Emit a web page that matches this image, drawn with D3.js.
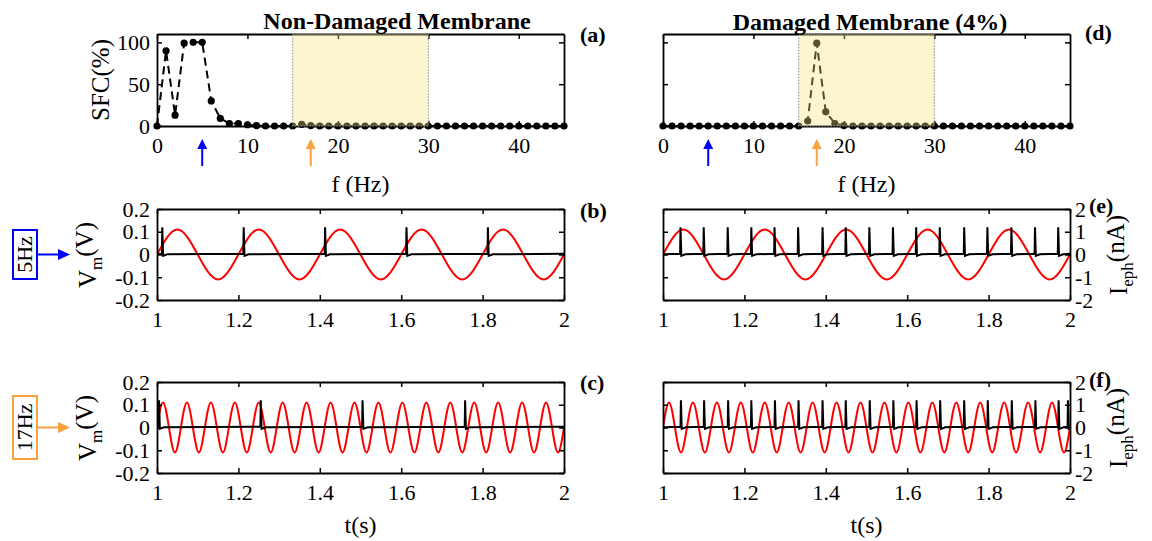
<!DOCTYPE html>
<html>
<head>
<meta charset="utf-8">
<script src="https://cdn.jsdelivr.net/npm/d3@7"></script>
<style>
  body { margin: 0; background: #fff; }
  text { font-family: "Liberation Serif", "Times New Roman", serif; fill: #000; }
</style>
</head>
<body>
<svg id="fig" width="1152" height="541"></svg>
<script>
// ---- data ----
const freqs = [0,1,2,3,4,5,6,7,8,9,10,11,12,13,14,15,16,17,18,19,20,21,22,23,24,25,26,27,28,29,30,
               31,32,33,34,35,36,37,38,39,40,41,42,43,44,45];
const sfcHealthy = [0,90,13,99,100,100,30,9,3,3,1.5,0.5,0,0,0,0,2,0.5,0,0,0,0,0,0,0,0,0,0,0,0,0,
                    0,0,0,0,0,0,0,0,0,0,0,0,0,0,0];
const sfcDamaged = [0,0,0,0,0,0,0,0,0,0,0,0,0,0,0,0,6,99,17,3,0.5,0,0,0,0,0,0,0,0,0,0,
                    0,0,0,0,0,0,0,0,0,0,0,0,0,0,0];
const bandHz = [15, 30];
const stimFreqs = [5, 17];
const sfcXTicks = [0, 10, 20, 30, 40];
const sfcYTicks = [0, 50, 100];

const timeTicks = [1, 1.2, 1.4, 1.6, 1.8, 2];
const vmTicks = [-0.2, -0.1, 0, 0.1, 0.2];
const iTicks = [-2, -1, 0, 1, 2];

// stimulus current (nA), sampled at peaks and zero crossings
const stim5T = [1.00,1.05,1.10,1.15,1.20,1.25,1.30,1.35,1.40,1.45,1.50,1.55,1.60,1.65,1.70,1.75,1.80,1.85,1.90,1.95,2.00];
const stim5I = [0,1.1,0,-1.1, 0,1.1,0,-1.1, 0,1.1,0,-1.1, 0,1.1,0,-1.1, 0,1.1,0,-1.1, 0];
const stim17T = [1.0000,1.0147,1.0294,1.0441,1.0588,1.0735,1.0882,1.1029,1.1176,1.1324,1.1471,1.1618,
                 1.1765,1.1912,1.2059,1.2206,1.2353,1.2500,1.2647,1.2794,1.2941,1.3088,1.3235,1.3382,
                 1.3529,1.3676,1.3824,1.3971,1.4118,1.4265,1.4412,1.4559,1.4706,1.4853,1.5000,1.5147,
                 1.5294,1.5441,1.5588,1.5735,1.5882,1.6029,1.6176,1.6324,1.6471,1.6618,1.6765,1.6912,
                 1.7059,1.7206,1.7353,1.7500,1.7647,1.7794,1.7941,1.8088,1.8235,1.8382,1.8529,1.8676,
                 1.8824,1.8971,1.9118,1.9265,1.9412,1.9559,1.9706,1.9853,2.0000];
const stim17I = [0,1.1,0,-1.1, 0,1.1,0,-1.1, 0,1.1,0,-1.1, 0,1.1,0,-1.1,
                 0,1.1,0,-1.1, 0,1.1,0,-1.1, 0,1.1,0,-1.1, 0,1.1,0,-1.1,
                 0,1.1,0,-1.1, 0,1.1,0,-1.1, 0,1.1,0,-1.1, 0,1.1,0,-1.1,
                 0,1.1,0,-1.1, 0,1.1,0,-1.1, 0,1.1,0,-1.1, 0,1.1,0,-1.1,
                 0,1.1,0,-1.1, 0];

// spike times (s) of the membrane voltage
const spikesB = [1.013, 1.213, 1.413, 1.613, 1.813];
const spikesE = [1.043, 1.100, 1.159, 1.217, 1.274, 1.332, 1.392, 1.449, 1.507, 1.565,
                 1.622, 1.680, 1.740, 1.797, 1.856, 1.914, 1.971];
const spikesC = [1.005, 1.255, 1.505, 1.757];
const spikesF = [1.044, 1.101, 1.160, 1.217, 1.275, 1.333, 1.392, 1.449, 1.508, 1.566,
                 1.623, 1.681, 1.740, 1.798, 1.857, 1.915, 1.972, 1.995];
// spike shape (V): level before, peak, undershoot, settled level
const vmBase = 0.003, vmPeak = 0.12, vmTrough = -0.006, vmRest = 0.001;

// ---- layout ----
const svg = d3.select('#fig');
const cols = [157, 663];
const plotW = 407;
const rowA = 34, rowB = 209, rowC = 382;
const sfcH = 92, trH = 91;
const orange = '#f7a140';

function style_axis(sel) {
    sel.select('.domain').attr('stroke', '#000').attr('stroke-width', 1.8);
    sel.selectAll('.tick line').attr('stroke', '#000').attr('stroke-width', 1.5);
    sel.selectAll('text')
        .attr('font-size', 22)
        .attr('font-family', 'Liberation Serif')
        .attr('fill', '#000');
}

function draw_axes(g, xScale, yScale, xTicks, yTicks, showLeft, right) {
    let w = xScale.range()[1];
    let h = yScale.range()[0];
    let fmt = function (d) { return String(d); };

    g.append('g').attr('transform', `translate(0, ${h})`)
        .call(d3.axisBottom(xScale).tickValues(xTicks).tickSizeInner(-5).tickSizeOuter(0)
            .tickPadding(11).tickFormat(fmt))
        .call(style_axis);
    g.append('g')
        .call(d3.axisTop(xScale).tickValues(xTicks).tickSizeInner(-5).tickSizeOuter(0).tickFormat(''))
        .call(style_axis);
    g.append('g')
        .call(d3.axisLeft(yScale).tickValues(yTicks).tickSizeInner(-5).tickSizeOuter(0)
            .tickPadding(7).tickFormat(showLeft ? fmt : ''))
        .call(style_axis);

    let rAxis = right
        ? d3.axisRight(right.scale).tickValues(right.ticks).tickPadding(5).tickFormat(fmt)
        : d3.axisRight(yScale).tickValues(yTicks).tickFormat('');
    g.append('g').attr('transform', `translate(${w}, 0)`)
        .call(rAxis.tickSizeInner(-5).tickSizeOuter(0))
        .call(style_axis);
}

function up_arrow(g, x, y0, y1, colour) {
    g.append('line')
        .attr('x1', x).attr('x2', x).attr('y1', y1).attr('y2', y0 + 8)
        .attr('stroke', colour).attr('stroke-width', 2);
    g.append('path')
        .attr('d', `M${x},${y0} L${x - 5},${y0 + 10} L${x + 5},${y0 + 10} Z`)
        .attr('fill', colour);
}

function sfc_plot(left, values, showLeft) {
    let g = svg.append('g').attr('transform', `translate(${left}, ${rowA})`);
    let xScale = d3.scaleLinear().domain([0, 45]).range([0, plotW]);
    let yScale = d3.scaleLinear().domain([0, 110]).range([sfcH, 0]);

    draw_axes(g, xScale, yScale, sfcXTicks, sfcYTicks, showLeft, null);

    let pts = freqs.map(function (f, i) { return [f, values[i]]; });
    g.append('path')
        .datum(pts)
        .attr('d', d3.line().x(function (d) { return xScale(d[0]); }).y(function (d) { return yScale(d[1]); }))
        .attr('fill', 'none')
        .attr('stroke', '#000')
        .attr('stroke-width', 2)
        .attr('stroke-dasharray', '8,5');
    g.selectAll('.dot')
        .data(pts)
        .enter()
        .append('circle')
        .attr('class', 'dot')
        .attr('cx', function (d) { return xScale(d[0]); })
        .attr('cy', function (d) { return yScale(d[1]); })
        .attr('r', 3.6)
        .attr('fill', '#000');

    // shaded frequency band
    g.append('rect')
        .attr('x', xScale(bandHz[0]))
        .attr('y', 0)
        .attr('width', xScale(bandHz[1]) - xScale(bandHz[0]))
        .attr('height', sfcH)
        .attr('fill', '#f9e279')
        .attr('fill-opacity', 0.35)
        .attr('stroke', '#999')
        .attr('stroke-width', 1.2)
        .attr('stroke-dasharray', '1.5,1.5');

    up_arrow(g, xScale(stimFreqs[0]), sfcH + 13, sfcH + 40, '#0000ff');
    up_arrow(g, xScale(stimFreqs[1]), sfcH + 13, sfcH + 40, orange);

    g.append('text')
        .attr('x', plotW / 2).attr('y', sfcH + 66)
        .attr('text-anchor', 'middle')
        .attr('font-size', 24)
        .text('f (Hz)');
    return g;
}

function vm_points(spikes) {
    let pts = [[1, vmRest]];
    spikes.forEach(function (s) {
        pts.push([s - 0.001, vmBase], [s, vmPeak], [s + 0.002, vmTrough], [s + 0.012, vmRest]);
    });
    pts.push([2, vmBase]);
    return pts;
}

function trace_plot(left, top, stimT, stimI, spikes, showLeft, showRight, showXLabel) {
    let g = svg.append('g').attr('transform', `translate(${left}, ${top})`);
    let xScale = d3.scaleLinear().domain([1, 2]).range([0, plotW]);
    let yScale = d3.scaleLinear().domain([-0.2, 0.2]).range([trH, 0]);
    let iScale = d3.scaleLinear().domain([-2, 2]).range([trH, 0]);

    let clipId = `clip${left}_${top}`;
    g.append('clipPath').attr('id', clipId)
        .append('rect').attr('width', plotW).attr('height', trH);
    let plot = g.append('g').attr('clip-path', `url(#${clipId})`);

    let stim = stimT.map(function (t, i) { return [t, stimI[i]]; });
    plot.append('path')
        .datum(stim)
        .attr('d', d3.line().curve(d3.curveNatural)
            .x(function (d) { return xScale(d[0]); })
            .y(function (d) { return iScale(d[1]); }))
        .attr('fill', 'none')
        .attr('stroke', '#ff0000')
        .attr('stroke-width', 2);

    plot.append('path')
        .datum(vm_points(spikes))
        .attr('d', d3.line()
            .x(function (d) { return xScale(d[0]); })
            .y(function (d) { return yScale(d[1]); }))
        .attr('fill', 'none')
        .attr('stroke', '#000')
        .attr('stroke-width', 2);

    draw_axes(g, xScale, yScale, timeTicks, vmTicks, showLeft,
        showRight ? { scale: iScale, ticks: iTicks } : null);

    if (showXLabel) {
        g.append('text')
            .attr('x', plotW / 2).attr('y', trH + 60)
            .attr('text-anchor', 'middle')
            .attr('font-size', 24)
            .text('t(s)');
    }
    return g;
}

function sub_label(x, y, main, sub, tail) {
    let t = svg.append('text')
        .attr('transform', `translate(${x}, ${y}) rotate(-90)`)
        .attr('text-anchor', 'middle')
        .attr('font-size', 25);
    t.append('tspan').text(main);
    t.append('tspan').attr('dy', '0.35em').attr('font-size', 17).text(sub);
    t.append('tspan').attr('dy', '-0.35em').text(tail);
}

function freq_tag(y0, y1, label, colour) {
    svg.append('rect')
        .attr('x', 13).attr('y', y0)
        .attr('width', 24).attr('height', y1 - y0)
        .attr('fill', 'none')
        .attr('stroke', colour)
        .attr('stroke-width', 2);
    svg.append('text')
        .attr('transform', `translate(32, ${(y0 + y1) / 2}) rotate(-90)`)
        .attr('text-anchor', 'middle')
        .attr('font-size', 22)
        .text(label);
    let ym = (y0 + y1) / 2;
    svg.append('line')
        .attr('x1', 37).attr('x2', 60).attr('y1', ym).attr('y2', ym)
        .attr('stroke', colour).attr('stroke-width', 2);
    svg.append('path')
        .attr('d', `M70,${ym} L58,${ym - 5.5} L58,${ym + 5.5} Z`)
        .attr('fill', colour);
}

// ---- panels ----
sfc_plot(cols[0], sfcHealthy, true);
sfc_plot(cols[1], sfcDamaged, false);

trace_plot(cols[0], rowB, stim5T, stim5I, spikesB, true, false, false);
trace_plot(cols[1], rowB, stim5T, stim5I, spikesE, false, true, false);
trace_plot(cols[0], rowC, stim17T, stim17I, spikesC, true, false, true);
trace_plot(cols[1], rowC, stim17T, stim17I, spikesF, false, true, true);

// titles
svg.append('text').attr('x', 397).attr('y', 29)
    .attr('text-anchor', 'middle').attr('font-size', 24).attr('font-weight', 'bold')
    .text('Non-Damaged Membrane');
svg.append('text').attr('x', 870).attr('y', 30)
    .attr('text-anchor', 'middle').attr('font-size', 24).attr('font-weight', 'bold')
    .text('Damaged Membrane (4%)');

// panel tags
const tags = [['(a)', 580, 42], ['(d)', 1085, 40], ['(b)', 580, 218], ['(e)', 1089, 213],
              ['(c)', 580, 390], ['(f)', 1089, 387]];
svg.selectAll('.tag')
    .data(tags)
    .enter()
    .append('text')
    .attr('class', 'tag')
    .attr('x', function (d) { return d[1]; })
    .attr('y', function (d) { return d[2]; })
    .attr('font-size', 22)
    .attr('font-weight', 'bold')
    .text(function (d) { return d[0]; });

// axis labels
svg.append('text')
    .attr('transform', 'translate(109, 80) rotate(-90)')
    .attr('text-anchor', 'middle')
    .attr('font-size', 25)
    .text('SFC(%)');
sub_label(96, 255, 'V', 'm', '(V)');
sub_label(96, 428, 'V', 'm', '(V)');
sub_label(1127, 255, 'I', 'eph', '(nA)');
sub_label(1127, 428, 'I', 'eph', '(nA)');

freq_tag(230, 279, '5Hz', '#0000ff');
freq_tag(396, 459, '17Hz', orange);
</script>
</body>
</html>
